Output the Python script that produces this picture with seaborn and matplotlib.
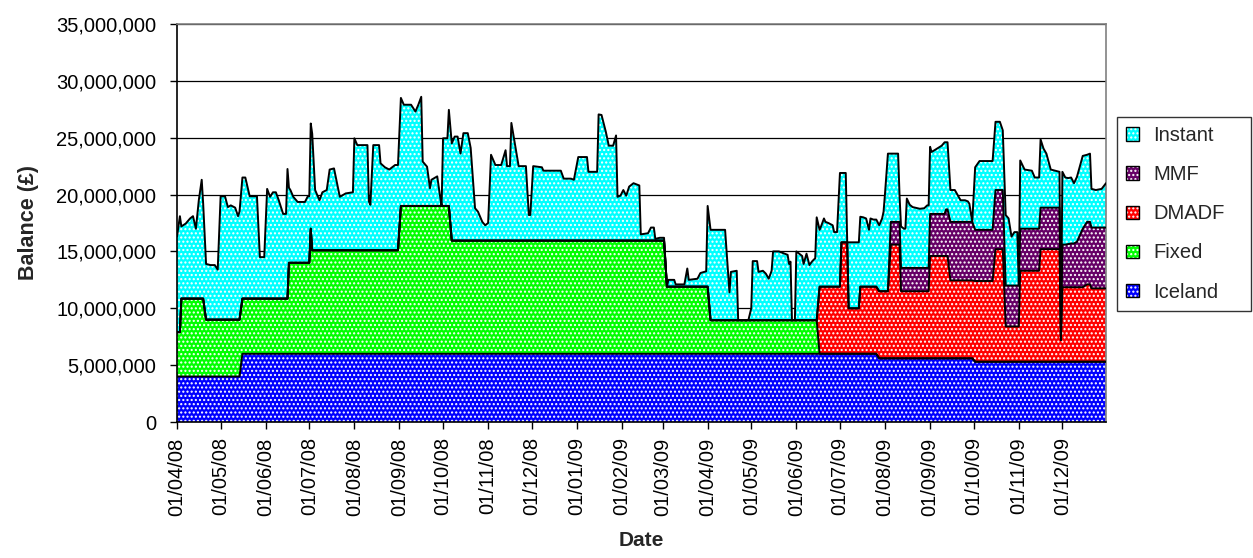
import numpy as np
import pandas as pd
import matplotlib
matplotlib.use("Agg")
import matplotlib.pyplot as plt
import matplotlib.dates as mdates
import matplotlib.ticker as mticker
import matplotlib.patches as mpatches
from matplotlib.legend_handler import HandlerTuple
import seaborn as sns

# ---------------- data (balances in £ millions) ----------------
start_date = "2008-04-01"
day_offset = [
    0, 2, 3, 6, 9, 11, 13, 15, 17, 18,
    20, 23, 26, 28, 30, 33, 35, 37, 40, 42,
    43, 45, 47, 50, 55, 57, 60, 62, 64, 66,
    68, 70, 73, 75, 76, 77, 78, 80, 83, 88,
    90, 91, 92, 93, 95, 98, 100, 103, 105, 108,
    112, 116, 121, 122, 124, 131, 132, 133, 135, 139,
    140, 143, 146, 150, 152, 154, 156, 161, 164, 166,
    168, 169, 172, 174, 175, 179, 181, 182, 183, 186,
    187, 189, 191, 193, 195, 197, 200, 202, 205, 207,
    210, 212, 214, 216, 219, 223, 226, 227, 229, 230,
    232, 235, 240, 242, 243, 245, 251, 252, 264, 266,
    271, 273, 276, 282, 283, 289, 290, 292, 295, 297,
    300, 302, 303, 305, 307, 309, 311, 314, 318, 319,
    324, 326, 328, 329, 332, 335, 337, 338, 342, 343,
    349, 351, 352, 358, 360, 364, 365, 367, 372, 377,
    380, 381, 385, 386, 393, 395, 396, 399, 400, 403,
    405, 407, 409, 410, 414, 418, 420, 421, 422, 423,
    425, 426, 428, 430, 431, 433, 435, 437, 439, 440,
    442, 443, 445, 446, 448, 451, 452, 454, 456, 457,
    460, 461, 462, 469, 470, 472, 474, 476, 477, 479,
    481, 483, 485, 486, 487, 489, 491, 496, 497, 498,
    500, 501, 502, 504, 506, 511, 514, 516, 517, 518,
    519, 521, 526, 528, 529, 530, 532, 535, 539, 542,
    544, 545, 547, 549, 552, 559, 561, 563, 566, 568,
    570, 572, 574, 576, 578, 579, 580, 583, 588, 590,
    593, 594, 596, 598, 601, 604, 607, 608, 609, 611,
    613, 615, 617, 619, 623, 626, 628, 629, 632, 636,
    639,
]

iceland = [
    4.0, 4.0, 4.0, 4.0, 4.0, 4.0, 4.0, 4.0, 4.0, 4.0,
    4.0, 4.0, 4.0, 4.0, 4.0, 4.0, 4.0, 4.0, 4.0, 4.0,
    4.0, 6.0, 6.0, 6.0, 6.0, 6.0, 6.0, 6.0, 6.0, 6.0,
    6.0, 6.0, 6.0, 6.0, 6.0, 6.0, 6.0, 6.0, 6.0, 6.0,
    6.0, 6.0, 6.0, 6.0, 6.0, 6.0, 6.0, 6.0, 6.0, 6.0,
    6.0, 6.0, 6.0, 6.0, 6.0, 6.0, 6.0, 6.0, 6.0, 6.0,
    6.0, 6.0, 6.0, 6.0, 6.0, 6.0, 6.0, 6.0, 6.0, 6.0,
    6.0, 6.0, 6.0, 6.0, 6.0, 6.0, 6.0, 6.0, 6.0, 6.0,
    6.0, 6.0, 6.0, 6.0, 6.0, 6.0, 6.0, 6.0, 6.0, 6.0,
    6.0, 6.0, 6.0, 6.0, 6.0, 6.0, 6.0, 6.0, 6.0, 6.0,
    6.0, 6.0, 6.0, 6.0, 6.0, 6.0, 6.0, 6.0, 6.0, 6.0,
    6.0, 6.0, 6.0, 6.0, 6.0, 6.0, 6.0, 6.0, 6.0, 6.0,
    6.0, 6.0, 6.0, 6.0, 6.0, 6.0, 6.0, 6.0, 6.0, 6.0,
    6.0, 6.0, 6.0, 6.0, 6.0, 6.0, 6.0, 6.0, 6.0, 6.0,
    6.0, 6.0, 6.0, 6.0, 6.0, 6.0, 6.0, 6.0, 6.0, 6.0,
    6.0, 6.0, 6.0, 6.0, 6.0, 6.0, 6.0, 6.0, 6.0, 6.0,
    6.0, 6.0, 6.0, 6.0, 6.0, 6.0, 6.0, 6.0, 6.0, 6.0,
    6.0, 6.0, 6.0, 6.0, 6.0, 6.0, 6.0, 6.0, 6.0, 6.0,
    6.0, 6.0, 6.0, 6.0, 6.0, 6.0, 6.0, 6.0, 6.0, 6.0,
    6.0, 6.0, 6.0, 6.0, 6.0, 6.0, 6.0, 6.0, 6.0, 6.0,
    6.0, 5.6, 5.6, 5.6, 5.6, 5.6, 5.6, 5.6, 5.6, 5.6,
    5.6, 5.6, 5.6, 5.6, 5.6, 5.6, 5.6, 5.6, 5.6, 5.6,
    5.6, 5.6, 5.6, 5.6, 5.6, 5.6, 5.6, 5.6, 5.6, 5.6,
    5.6, 5.6, 5.6, 5.3, 5.3, 5.3, 5.3, 5.3, 5.3, 5.3,
    5.3, 5.3, 5.3, 5.3, 5.3, 5.3, 5.3, 5.3, 5.3, 5.3,
    5.3, 5.3, 5.3, 5.3, 5.3, 5.3, 5.3, 5.3, 5.3, 5.3,
    5.3, 5.3, 5.3, 5.3, 5.3, 5.3, 5.3, 5.3, 5.3, 5.3,
    5.3,
]

fixed = [
    3.9, 3.9, 6.85, 6.85, 6.85, 6.85, 6.85, 6.85, 6.85, 6.85,
    5.0, 5.0, 5.0, 5.0, 5.0, 5.0, 5.0, 5.0, 5.0, 5.0,
    5.0, 4.85, 4.85, 4.85, 4.85, 4.85, 4.85, 4.85, 4.85, 4.85,
    4.85, 4.85, 4.85, 4.85, 4.85, 8.0, 8.0, 8.0, 8.0, 8.0,
    8.0, 8.0, 11.0, 9.1, 9.1, 9.1, 9.1, 9.1, 9.1, 9.1,
    9.1, 9.1, 9.1, 9.1, 9.1, 9.1, 9.1, 9.1, 9.1, 9.1,
    9.1, 9.1, 9.1, 9.1, 9.1, 13.0, 13.0, 13.0, 13.0, 13.0,
    13.0, 13.0, 13.0, 13.0, 13.0, 13.0, 13.0, 13.0, 13.0, 13.0,
    13.0, 9.95, 9.95, 9.95, 9.95, 9.95, 9.95, 9.95, 9.95, 9.95,
    9.95, 9.95, 9.95, 9.95, 9.95, 9.95, 9.95, 9.95, 9.95, 9.95,
    9.95, 9.95, 9.95, 9.95, 9.95, 9.95, 9.95, 9.95, 9.95, 9.95,
    9.95, 9.95, 9.95, 9.95, 9.95, 9.95, 9.95, 9.95, 9.95, 9.95,
    9.95, 9.95, 9.95, 9.95, 9.95, 9.95, 9.95, 9.95, 9.95, 9.95,
    9.95, 9.95, 9.95, 9.95, 9.95, 9.95, 5.9, 5.9, 5.9, 5.9,
    5.9, 5.9, 5.9, 5.9, 5.9, 5.9, 5.9, 2.95, 2.95, 2.95,
    2.95, 2.95, 2.95, 2.95, 2.95, 2.95, 2.95, 2.95, 2.95, 2.95,
    2.95, 2.95, 2.95, 2.95, 2.95, 2.95, 2.95, 2.95, 2.95, 2.95,
    2.95, 2.95, 2.95, 2.95, 2.95, 2.95, 2.95, 2.95, 2.95, 2.95,
    0.0, 0.0, 0.0, 0.0, 0.0, 0.0, 0.0, 0.0, 0.0, 0.0,
    0.0, 0.0, 0.0, 0.0, 0.0, 0.0, 0.0, 0.0, 0.0, 0.0,
    0.0, 0.0, 0.0, 0.0, 0.0, 0.0, 0.0, 0.0, 0.0, 0.0,
    0.0, 0.0, 0.0, 0.0, 0.0, 0.0, 0.0, 0.0, 0.0, 0.0,
    0.0, 0.0, 0.0, 0.0, 0.0, 0.0, 0.0, 0.0, 0.0, 0.0,
    0.0, 0.0, 0.0, 0.0, 0.0, 0.0, 0.0, 0.0, 0.0, 0.0,
    0.0, 0.0, 0.0, 0.0, 0.0, 0.0, 0.0, 0.0, 0.0, 0.0,
    0.0, 0.0, 0.0, 0.0, 0.0, 0.0, 0.0, 0.0, 0.0, 0.0,
    0.0, 0.0, 0.0, 0.0, 0.0, 0.0, 0.0, 0.0, 0.0, 0.0,
    0.0,
]

dmadf = [
    0.0, 0.0, 0.0, 0.0, 0.0, 0.0, 0.0, 0.0, 0.0, 0.0,
    0.0, 0.0, 0.0, 0.0, 0.0, 0.0, 0.0, 0.0, 0.0, 0.0,
    0.0, 0.0, 0.0, 0.0, 0.0, 0.0, 0.0, 0.0, 0.0, 0.0,
    0.0, 0.0, 0.0, 0.0, 0.0, 0.0, 0.0, 0.0, 0.0, 0.0,
    0.0, 0.0, 0.0, 0.0, 0.0, 0.0, 0.0, 0.0, 0.0, 0.0,
    0.0, 0.0, 0.0, 0.0, 0.0, 0.0, 0.0, 0.0, 0.0, 0.0,
    0.0, 0.0, 0.0, 0.0, 0.0, 0.0, 0.0, 0.0, 0.0, 0.0,
    0.0, 0.0, 0.0, 0.0, 0.0, 0.0, 0.0, 0.0, 0.0, 0.0,
    0.0, 0.0, 0.0, 0.0, 0.0, 0.0, 0.0, 0.0, 0.0, 0.0,
    0.0, 0.0, 0.0, 0.0, 0.0, 0.0, 0.0, 0.0, 0.0, 0.0,
    0.0, 0.0, 0.0, 0.0, 0.0, 0.0, 0.0, 0.0, 0.0, 0.0,
    0.0, 0.0, 0.0, 0.0, 0.0, 0.0, 0.0, 0.0, 0.0, 0.0,
    0.0, 0.0, 0.0, 0.0, 0.0, 0.0, 0.0, 0.0, 0.0, 0.0,
    0.0, 0.0, 0.0, 0.0, 0.0, 0.0, 0.0, 0.0, 0.0, 0.0,
    0.0, 0.0, 0.0, 0.0, 0.0, 0.0, 0.0, 0.0, 0.0, 0.0,
    0.0, 0.0, 0.0, 0.0, 0.0, 0.0, 0.0, 0.0, 0.0, 0.0,
    0.0, 0.0, 0.0, 0.0, 0.0, 0.0, 0.0, 0.0, 0.0, 0.0,
    0.0, 0.0, 0.0, 0.0, 0.0, 0.0, 0.0, 0.0, 0.0, 0.0,
    5.9, 5.9, 5.9, 5.9, 5.9, 5.9, 5.9, 5.9, 5.9, 9.8,
    9.8, 9.8, 4.0, 4.0, 5.9, 5.9, 5.9, 5.9, 5.9, 5.9,
    5.9, 5.9, 5.9, 5.9, 5.9, 5.9, 10.0, 10.0, 10.0, 5.9,
    5.9, 5.9, 5.9, 5.9, 5.9, 5.9, 5.9, 5.9, 5.9, 9.0,
    9.0, 9.0, 9.0, 9.0, 9.0, 9.0, 6.85, 6.85, 6.85, 6.85,
    6.85, 6.85, 6.85, 7.1, 7.1, 7.1, 7.1, 9.9, 9.9, 9.9,
    3.1, 3.1, 3.1, 3.1, 3.1, 3.1, 8.0, 8.0, 8.0, 8.0,
    8.0, 9.9, 9.9, 9.9, 9.9, 9.9, 9.9, 1.9, 6.55, 6.55,
    6.55, 6.55, 6.55, 6.55, 6.55, 6.8, 6.8, 6.45, 6.45, 6.45,
    6.45,
]

mmf = [
    0.0, 0.0, 0.0, 0.0, 0.0, 0.0, 0.0, 0.0, 0.0, 0.0,
    0.0, 0.0, 0.0, 0.0, 0.0, 0.0, 0.0, 0.0, 0.0, 0.0,
    0.0, 0.0, 0.0, 0.0, 0.0, 0.0, 0.0, 0.0, 0.0, 0.0,
    0.0, 0.0, 0.0, 0.0, 0.0, 0.0, 0.0, 0.0, 0.0, 0.0,
    0.0, 0.0, 0.0, 0.0, 0.0, 0.0, 0.0, 0.0, 0.0, 0.0,
    0.0, 0.0, 0.0, 0.0, 0.0, 0.0, 0.0, 0.0, 0.0, 0.0,
    0.0, 0.0, 0.0, 0.0, 0.0, 0.0, 0.0, 0.0, 0.0, 0.0,
    0.0, 0.0, 0.0, 0.0, 0.0, 0.0, 0.0, 0.0, 0.0, 0.0,
    0.0, 0.0, 0.0, 0.0, 0.0, 0.0, 0.0, 0.0, 0.0, 0.0,
    0.0, 0.0, 0.0, 0.0, 0.0, 0.0, 0.0, 0.0, 0.0, 0.0,
    0.0, 0.0, 0.0, 0.0, 0.0, 0.0, 0.0, 0.0, 0.0, 0.0,
    0.0, 0.0, 0.0, 0.0, 0.0, 0.0, 0.0, 0.0, 0.0, 0.0,
    0.0, 0.0, 0.0, 0.0, 0.0, 0.0, 0.0, 0.0, 0.0, 0.0,
    0.0, 0.0, 0.0, 0.0, 0.0, 0.0, 0.0, 0.0, 0.0, 0.0,
    0.0, 0.0, 0.0, 0.0, 0.0, 0.0, 0.0, 0.0, 0.0, 0.0,
    0.0, 0.0, 0.0, 0.0, 0.0, 0.0, 0.0, 0.0, 0.0, 0.0,
    0.0, 0.0, 0.0, 0.0, 0.0, 0.0, 0.0, 0.0, 0.0, 0.0,
    0.0, 0.0, 0.0, 0.0, 0.0, 0.0, 0.0, 0.0, 0.0, 0.0,
    0.0, 0.0, 0.0, 0.0, 0.0, 0.0, 0.0, 0.0, 0.0, 0.0,
    0.0, 0.0, 0.0, 0.0, 0.0, 0.0, 0.0, 0.0, 0.0, 0.0,
    0.0, 0.0, 0.0, 0.0, 0.0, 0.0, 2.0, 2.0, 2.0, 2.05,
    2.05, 2.05, 2.05, 2.05, 2.05, 2.05, 2.05, 2.05, 2.05, 3.7,
    3.7, 3.7, 3.7, 3.7, 4.1, 4.1, 5.15, 5.15, 5.15, 5.15,
    5.15, 5.15, 5.15, 4.5, 4.5, 4.5, 4.5, 5.2, 5.2, 5.2,
    3.6, 3.6, 3.6, 3.6, 3.6, 3.6, 3.7, 3.7, 3.7, 3.7,
    3.7, 3.65, 3.65, 3.65, 3.65, 3.65, 3.65, 0.0, 3.75, 3.75,
    3.8, 3.85, 3.85, 4.0, 5.15, 5.5, 5.5, 5.35, 5.35, 5.35,
    5.35,
]

instant = [
    8.4, 10.2, 6.35, 6.6, 7.05, 7.25, 6.15, 8.65, 10.45, 8.35,
    4.9, 4.8, 4.8, 4.4, 10.85, 10.85, 9.9, 10.05, 9.85, 9.1,
    9.5, 10.65, 10.65, 9.0, 9.0, 3.65, 3.65, 9.65, 8.95, 9.35,
    9.35, 8.65, 7.45, 7.45, 11.4, 6.6, 6.4, 5.8, 5.35, 5.35,
    5.85, 5.85, 9.25, 10.25, 5.3, 4.4, 5.1, 5.3, 7.1, 7.2,
    4.7, 5.0, 5.1, 9.85, 9.25, 9.25, 4.3, 4.0, 9.25, 9.25,
    7.65, 7.3, 7.1, 7.5, 7.5, 9.5, 8.9, 8.9, 8.3, 8.9,
    9.6, 3.9, 3.45, 1.55, 2.3, 2.6, 0.8, 0.0, 5.95, 5.95,
    8.45, 8.55, 9.15, 9.15, 7.65, 9.45, 9.45, 8.15, 2.85, 2.55,
    1.65, 1.35, 1.55, 7.55, 6.65, 6.65, 7.95, 6.55, 6.55, 10.35,
    8.85, 6.55, 6.55, 2.25, 2.25, 6.55, 6.45, 6.15, 6.15, 5.45,
    5.45, 5.35, 7.35, 7.35, 6.05, 6.05, 11.1, 11.05, 9.55, 8.35,
    8.35, 9.25, 3.85, 3.95, 4.45, 3.95, 4.75, 5.05, 4.85, 0.55,
    0.65, 1.15, 1.15, 0.15, 0.25, 0.25, 0.0, 0.6, 0.6, 0.2,
    0.2, 1.6, 0.6, 0.7, 1.2, 1.35, 7.1, 7.95, 7.95, 7.95,
    2.45, 4.25, 4.35, 0.0, 0.0, 1.05, 5.2, 5.2, 4.25, 4.35,
    4.1, 3.65, 4.35, 6.05, 6.05, 5.85, 5.75, 4.95, 5.15, 0.0,
    0.0, 6.05, 5.85, 5.65, 4.95, 5.85, 4.85, 5.2, 5.45, 9.05,
    5.0, 5.3, 6.0, 5.7, 5.6, 5.4, 4.8, 4.8, 10.0, 6.1,
    6.1, 0.0, 5.8, 5.8, 6.15, 6.1, 6.0, 5.0, 6.0, 5.9,
    5.9, 5.8, 6.4, 7.0, 8.6, 12.1, 6.0, 6.0, 2.3, 3.65,
    3.45, 3.45, 6.1, 5.55, 5.35, 5.2, 5.25, 5.5, 5.5, 5.9,
    5.45, 5.6, 6.0, 6.3, 5.9, 5.9, 2.8, 2.8, 1.9, 1.9,
    1.8, 1.6, 0.0, 5.5, 6.05, 6.05, 6.05, 6.0, 6.0, 5.25,
    6.2, 5.9, 4.3, 4.7, 4.7, 0.0, 6.0, 5.2, 5.1, 4.5,
    4.5, 6.0, 5.2, 4.75, 3.35, 3.25, 3.15, 0.0, 6.4, 5.9,
    5.8, 5.8, 5.3, 5.7, 6.4, 5.9, 6.0, 3.4, 3.3, 3.4,
    3.9,
]

series_names = ["Iceland", "Fixed", "DMADF", "MMF", "Instant"]
series_colors = ["#0000FF", "#00FF00", "#FF0000", "#660066", "#00FFFF"]
y_ticks = [0, 5, 10, 15, 20, 25, 30, 35]

# ---------------- build ----------------
dates = pd.Timestamp(start_date) + pd.to_timedelta(day_offset, unit="D")
layers = np.array([iceland, fixed, dmadf, mmf, instant]) * 1e6
tops = np.cumsum(layers, axis=0)

sns.set_theme(style="ticks")
plt.rcParams["font.family"] = ["Liberation Sans", "DejaVu Sans"]
plt.rcParams["hatch.linewidth"] = 1.0

fig = plt.figure(figsize=(12.53, 5.58), dpi=100)
ax = fig.add_axes([177 / 1253, 1 - 422 / 558, (1106 - 177) / 1253, (422 - 24) / 558])

HATCH = "...."
polys = ax.stackplot(dates, *layers, colors=series_colors, linewidth=0, zorder=2)
for p in polys:
    p.set_hatch(HATCH)
    p.set_edgecolor("white")
    p.set_linewidth(0)

for i in range(tops.shape[0]):
    sns.lineplot(x=dates, y=tops[i], color="black", linewidth=1.4,
                 estimator=None, ax=ax, zorder=3, legend=False)

ax.set_xlim(dates[0], dates[-1])
ax.set_ylim(0, 35e6)
ax.set_yticks([v * 1e6 for v in y_ticks])
ax.yaxis.set_major_formatter(mticker.FuncFormatter(lambda v, p: f"{v:,.0f}"))
ax.xaxis.set_major_locator(mdates.MonthLocator(bymonthday=1))
ax.xaxis.set_major_formatter(mdates.DateFormatter("%d/%m/%y"))
plt.setp(ax.get_xticklabels(), rotation=90)

ax.grid(axis="y", color="black", linewidth=0.9)
ax.grid(axis="x", visible=False)
ax.set_axisbelow(True)

ax.tick_params(axis="both", direction="out", length=5, width=1, labelsize=14.5,
               colors="black", pad=6)
ax.tick_params(axis="y", pad=10)
for s in ["left", "bottom"]:
    ax.spines[s].set_color("black")
    ax.spines[s].set_linewidth(1.2)
for s in ["top", "right"]:
    ax.spines[s].set_visible(True)
    ax.spines[s].set_color("#808080")
    ax.spines[s].set_linewidth(1.2)

ax.set_ylabel("Balance (£)", fontsize=15.5, fontweight="bold", labelpad=12)
ax.set_xlabel("Date", fontsize=15, fontweight="bold", labelpad=11)

handles = []
for c in series_colors:
    h_fill = mpatches.Patch(facecolor=c, edgecolor="white", hatch=HATCH, linewidth=0)
    h_edge = mpatches.Patch(facecolor="none", edgecolor="black", linewidth=1.0)
    handles.append((h_fill, h_edge))
order = [4, 3, 2, 1, 0]
leg = fig.legend([handles[i] for i in order], [series_names[i] for i in order],
                 handler_map={tuple: HandlerTuple(ndivide=1, pad=0)},
                 loc="upper left",
                 bbox_to_anchor=(1117 / 1253, 1 - 318 / 558, 134 / 1253, 201 / 558),
                 mode="expand",
                 frameon=True, fancybox=False, edgecolor="black", fontsize=14.5,
                 handlelength=0.65, handleheight=0.65, labelspacing=1.0,
                 borderpad=0.45, handletextpad=0.7, borderaxespad=0)
leg.get_frame().set_linewidth(1.0)

fig.savefig("out.png", dpi=100, facecolor="white")
